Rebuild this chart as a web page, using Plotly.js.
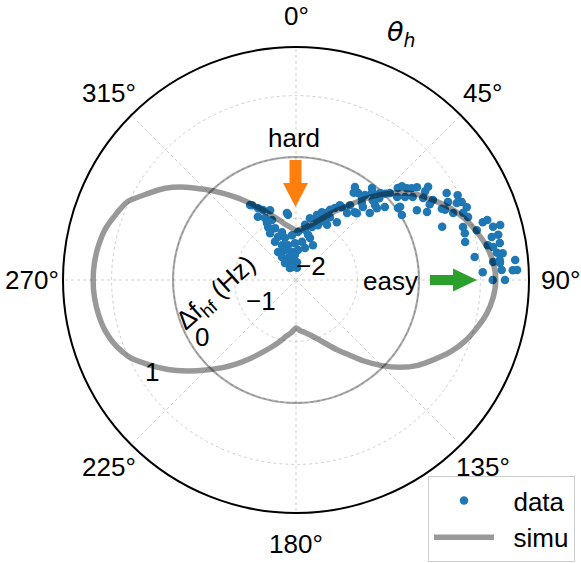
<!DOCTYPE html>
<html>
<head>
<meta charset="utf-8">
<script src="https://cdn.plot.ly/plotly-3.0.1.min.js"></script>
<style>html,body{margin:0;padding:0;background:#fff;}#chart{width:581px;height:563px;}</style>
</head>
<body>
<div id="chart"></div>
<script>
// ---- data (theta in degrees, clockwise from top; r = Δf_hf in Hz) ----
const dataTheta = [-31.5,-27.8,-25.2,-31.1,-26.6,-21.8,-7.7,-7.0,-27.8,-22.0,-16.3,-29.0,-22.7,-14.7,-5.1,2.4,10.2,16.8,19.9,22.8,-28.9,-21.8,-12.9,-1.5,9.0,18.4,25.9,-32.7,-20.1,-8.1,3.8,15.7,-31.3,-20.0,-2.3,-32.9,-12.5,-26.6,4.8,14.9,-27.0,
  -30.4,-20.4,32.4,35.5,39.1,41.5,48.4,47.8,42.5,40.9,30.4,25.9,22.0,17.9,28.4,35.3,22.5,37.3,12.7,9.3,-14.6,3.2,-17.1,
  39.6,44.0,47.2,47.9,50.6,38.8,43.9,50.6,46.5,42.3,35.8,32.2,28.4,25.2,20.9,19.5,24.7,21.8,29.4,58.5,54.8,
  50.4,52.5,54.8,52.7,54.6,57.2,59.7,60.0,62.3,62.8,64.4,64.8,66.9,64.8,66.9,68.1,69.9,60.0,62.6,70.0,72.4,74.5,54.9,
  72.8,72.6,74.6,74.9,74.9,77.3,77.6,77.4,79.7,80.5,79.7,82.3,82.6,84.4,84.8,82.7,84.8,85.2,87.2,87.4,87.6,90,90,87.4,
  33.5,41.0,46.0,48.5,51.5,55.5,40.5,45.5,60.5,64.0];
const dataR = [-0.57,-0.68,-0.74,-0.80,-0.87,-0.95,-0.90,-0.93,-1.03,-1.09,-1.19,-1.13,-1.24,-1.29,-1.27,-1.22,-1.17,-1.10,-1.00,-0.91,-1.29,-1.39,-1.42,-1.40,-1.37,-1.28,-1.37,-1.46,-1.48,-1.54,-1.51,-1.46,-1.56,-1.62,-1.59,-1.67,-1.70,-1.78,-1.80,-1.24,-0.96,
  -0.59,-0.79,-0.21,-0.26,-0.22,-0.11,-0.24,-0.38,-0.39,-0.54,-0.59,-0.73,-0.83,-0.89,-0.84,-0.85,-0.98,-0.63,-0.97,-1.09,-1.61,-1.71,-1.78,
  -0.06,-0.03,0.08,0.23,0.13,-0.29,-0.20,-0.13,-0.23,-0.53,-0.50,-0.60,-0.67,-0.78,-0.82,-0.93,-0.87,-1.04,-0.97,0.02,0.03,
  0.34,0.48,0.63,0.23,0.33,0.46,0.58,0.83,0.97,0.78,0.90,0.98,1.02,0.68,0.78,0.93,0.98,0.27,0.40,0.53,0.85,0.85,0.07,
  1.18,1.26,1.05,1.32,1.44,0.82,1.26,1.37,1.17,1.25,1.37,1.30,1.39,1.33,1.58,0.93,1.22,1.33,1.35,1.60,1.04,1.20,1.40,1.53,
  -0.30,-0.12,0.02,0.30,0.40,0.55,-0.35,-0.10,0.50,0.64];

const simTheta = [0,5,10,15,20,25,30,35,40,45,50,55,60,65,70,75,80,85,90,
  95,100,105,110,115,120,125,130,135,140,145,150,155,160,165,170,175,180,
  185,190,195,200,205,210,215,220,225,230,235,240,245,250,255,260,265,270,
  275,280,285,290,295,300,305,310,315,320,325,330,335,340,345,350,355,360];
const simR = [-1.19,-1.17,-1.13,-1.07,-0.98,-0.86,-0.70,-0.52,-0.28,-0.03,0.21,0.42,0.59,0.77,0.92,1.04,1.15,1.22,1.25,
  1.22,1.15,1.04,0.92,0.77,0.59,0.42,0.21,-0.03,-0.28,-0.52,-0.70,-0.86,-0.98,-1.07,-1.13,-1.17,-1.22,
  -1.14,-1.07,-0.96,-0.84,-0.70,-0.53,-0.34,-0.14,0.07,0.30,0.54,0.76,0.98,1.12,1.21,1.26,1.29,1.30,
  1.29,1.26,1.21,1.12,1.02,0.80,0.60,0.35,0.08,-0.16,-0.38,-0.58,-0.75,-0.89,-1.00,-1.09,-1.15,-1.19];

const zeroCircleTheta = [];
for (let t = 0; t <= 360; t += 2) zeroCircleTheta.push(t);
const zeroCircleR = zeroCircleTheta.map(() => 0);

// axis ticks / labels
const angTickVals = [0,45,90,135,180,225,270,315];
const angTickText = ['0°','45°','90°','135°','180°','225°','270°','315°'];
const angLabelDist = 264;    // label centre distance from pole (px)
const radRange = [-2, 1.79];
const radTickVals = [-2,-1,0,1];
const radTickText = ['\u22122','\u22121','0','1'];
const radLabelAngle = 215;   // degrees, counter-clockwise from east

// ---- geometry helpers (pixel -> paper) ----
const W = 581, H = 563;
const px = x => x / W, py = y => 1 - y / H;
function pathFrom(pts){ return 'M' + pts.map(p => px(p[0]).toFixed(4)+','+py(p[1]).toFixed(4)).join(' L') + ' Z'; }

const FONT = 'Liberation Sans, Arial, sans-serif';
const FS = 26;
const cx = 296, cy = 280, R = 233;

const annotations = [
  {text:'<i>θ</i><sub><i>h</i></sub>', x:401, y:33, font:{family:'DejaVu Sans', size:27}},
  {text:'hard', x:294, y:138},
  {text:'easy', x:390, y:281},
  {text:'Δf<sub>hf</sub> (Hz)', x:216, y:293, textangle:-42}
].map(a => Object.assign({xref:'paper', yref:'paper', showarrow:false, xanchor:'center', yanchor:'middle',
  font:{family:FONT, size:FS}}, a, {x:px(a.x), y:py(a.y)}));

// angular tick labels (centred, outside the rim)
angTickVals.forEach((t, i) => {
  const a = t * Math.PI / 180;
  annotations.push({xref:'paper', yref:'paper', showarrow:false, xanchor:'center', yanchor:'middle',
    x: px(cx + angLabelDist * Math.sin(a)), y: py(cy - angLabelDist * Math.cos(a)), text: angTickText[i],
    font:{family:FONT, size:FS}});
});
// radial tick labels (left-bottom anchored at the tick position)
radTickVals.forEach((v, i) => {
  const rp = (v - radRange[0]) / (radRange[1] - radRange[0]) * R;
  const a = radLabelAngle * Math.PI / 180;
  annotations.push({xref:'paper', yref:'paper', showarrow:false, xanchor:'left', yanchor:'bottom',
    x: px(cx - 2 + rp * Math.cos(a)), y: py(cy + 3 - rp * Math.sin(a)), text: radTickText[i],
    font:{family:FONT, size:FS}});
});

const traces = [
  {type:'scatterpolar', mode:'lines', theta: zeroCircleTheta, r: zeroCircleR,
   line:{color:'rgba(0,0,0,0.33)', width:2.2}, showlegend:false, hoverinfo:'skip'},
  {type:'scatterpolar', mode:'markers', name:'\u00a0\u00a0data', theta: dataTheta, r: dataR,
   marker:{color:'#1f77b4', size:8.5}},
  {type:'scatterpolar', mode:'lines', name:'\u00a0\u00a0simu', theta: simTheta, r: simR,
   line:{color:'rgba(0,0,0,0.4)', width:5.5, shape:'spline', smoothing:0.6}}
];

const layout = {
  width: W, height: H,
  margin:{l:0,r:0,t:0,b:0},
  paper_bgcolor:'#fff',
  font:{family: FONT, size: FS, color:'#000'},
  showlegend:true,
  legend:{x: px(428), y: py(476), xanchor:'left', yanchor:'top',
    bordercolor:'#cccccc', borderwidth:1, bgcolor:'rgba(255,255,255,0.9)',
    font:{family: FONT, size: FS}, itemwidth: 60, tracegroupgap: 0,
    entrywidthmode:'pixels', entrywidth: 70},
  polar:{
    domain:{x:[px(cx-R), px(cx+R)], y:[py(cy+R), py(cy-R)]},
    bgcolor:'#fff',
    angularaxis:{rotation:90, direction:'clockwise', tickmode:'array',
      tickvals: angTickVals, showticklabels:false, ticks:'',
      showline:true, linecolor:'#000', linewidth:2,
      showgrid:true, gridcolor:'#cfcfcf', gridwidth:1, griddash:'dot'},
    radialaxis:{range: radRange, angle:radLabelAngle, tickmode:'array',
      tickvals: radTickVals, showticklabels:false,
      showline:false, ticks:'',
      showgrid:true, gridcolor:'#cfcfcf', gridwidth:1, griddash:'dot'}
  },
  annotations: annotations,
  shapes:[
    {type:'path', xref:'paper', yref:'paper', fillcolor:'#ff7f0e', line:{width:0},
     path: pathFrom([[289.5,160],[301.5,160],[301.5,183],[308,183],[295.5,207],[283,183],[289.5,183]])},
    {type:'path', xref:'paper', yref:'paper', fillcolor:'#2ca02c', line:{width:0},
     path: pathFrom([[430,275],[453,275],[453,268.5],[477,280],[453,291.5],[453,285],[430,285]])}
  ]
};

Plotly.newPlot('chart', traces, layout, {displayModeBar:false, staticPlot:true});
</script>
</body>
</html>
